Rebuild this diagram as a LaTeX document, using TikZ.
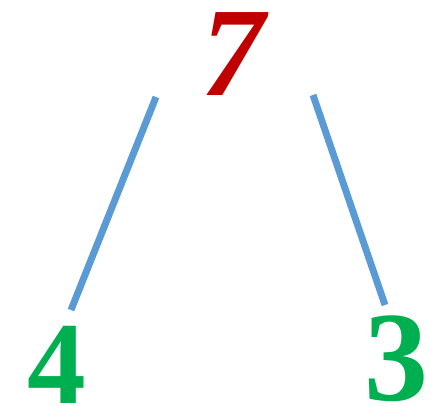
\documentclass[tikz,border=0pt]{standalone}
\usepackage{fontspec}
\setmainfont{Liberation Serif}
\usepackage{tikz}
\usepackage{xcolor}
\definecolor{rootred}{HTML}{C00000}
\definecolor{leafgreen}{HTML}{00B050}
\definecolor{branchblue}{HTML}{5B9BD5}

\begin{document}
\begin{tikzpicture}[
  x=0.75pt, y=-0.75pt,
  digit/.style={inner sep=0pt, anchor=base, text height=0.68em, text depth=0pt},
  branch/.style={draw=branchblue, line width=5.2pt}
]
\useasboundingbox (0,0) rectangle (431,405);
\node[digit, text=rootred, font=\fontsize{95}{95}\selectfont\bfseries\itshape] (seven) at (233,95) {7};
\node[digit, text=leafgreen, font=\fontsize{88}{88}\selectfont\bfseries] (four) at (57,403) {4};
\node[digit, text=leafgreen, font=\fontsize{96}{96}\selectfont\bfseries] (three) at (396,400) {3};

% branch ends
\coordinate (sevenL) at (156,97);
\coordinate (sevenR) at (313,95);
\coordinate (fourTop) at (71,310);
\coordinate (threeTop) at (385,305);

\draw[branch] (sevenL) -- (fourTop);
\draw[branch] (sevenR) -- (threeTop);
\end{tikzpicture}
\end{document}
